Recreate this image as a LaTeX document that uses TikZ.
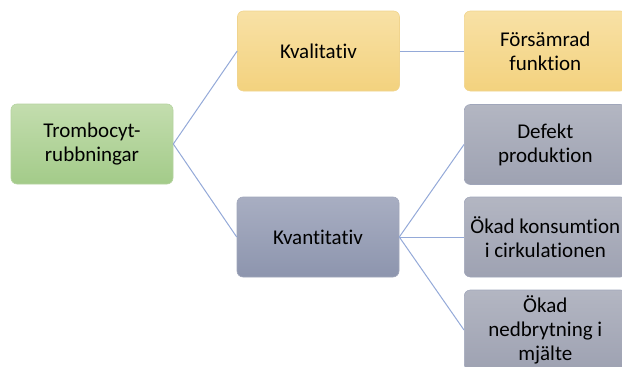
\documentclass[tikz,border=0pt]{standalone}
\usepackage{fontspec}
\setmainfont{Carlito}[RawFeature={-liga;-clig;-dlig}]
\begin{document}
\begin{tikzpicture}[x=1pt,y=-1pt,
  box/.style={rounded corners=6pt, draw=#1, line width=0.6pt, minimum width=162pt, minimum height=80pt, align=center, font=\fontsize{21}{24}\selectfont, inner sep=2pt},
  link/.style={draw=linkc, line width=1pt}]
\definecolor{greenT}{HTML}{C3DDAE}
\definecolor{greenB}{HTML}{A3CB89}
\definecolor{yelT}{HTML}{F8E1A6}
\definecolor{yelB}{HTML}{F3D27E}
\definecolor{bluT}{HTML}{A8AEC2}
\definecolor{bluB}{HTML}{8D95AE}
\definecolor{gryT}{HTML}{B3B6C2}
\definecolor{gryB}{HTML}{9EA2B2}
\definecolor{linkc}{HTML}{94A9D8}
\definecolor{edgeG}{HTML}{B5D3A0}
\definecolor{edgeY}{HTML}{F0D48E}
\definecolor{edgeB}{HTML}{A0A6BA}
\useasboundingbox (0,0) rectangle (622,367);
\node[box=edgeG, top color=greenT, bottom color=greenB] (root) at (92,144) {Trombocyt-\\rubbningar};
\node[box=edgeY, top color=yelT, bottom color=yelB] (kval) at (318.5,51) {Kvalitativ};
\node[box=edgeB, top color=bluT, bottom color=bluB] (kvan) at (318,237) {Kvantitativ};
\node[box=edgeY, top color=yelT, bottom color=yelB, anchor=west] (fors) at (464,51) {Försämrad\\funktion};
\node[box=edgeB, top color=gryT, bottom color=gryB, anchor=west] (def) at (464,144.5) {Defekt\\produktion};
\node[box=edgeB, top color=gryT, bottom color=gryB, anchor=west] (kons) at (464,237) {Ökad konsumtion\\i cirkulationen};
\node[box=edgeB, top color=gryT, bottom color=gryB, anchor=west] (nedb) at (464,330) {Ökad\\nedbrytning i\\mjälte};
\draw[link] (root.east) -- (kval.west);
\draw[link] (root.east) -- (kvan.west);
\draw[link] (kval.east) -- (fors.west);
\draw[link] (kvan.east) -- (def.west);
\draw[link] (kvan.east) -- (kons.west);
\draw[link] (kvan.east) -- (nedb.west);
\end{tikzpicture}
\end{document}
